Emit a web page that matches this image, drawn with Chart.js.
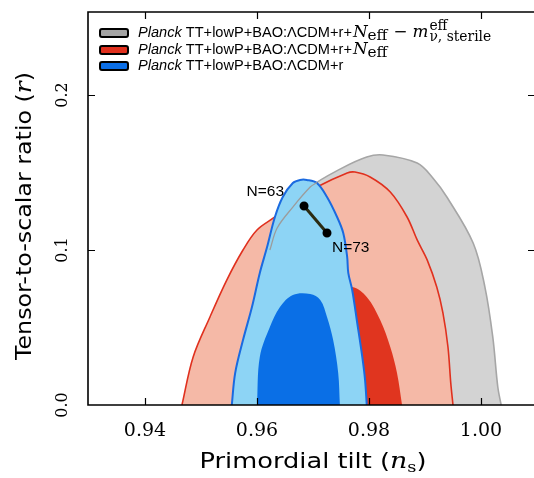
<!DOCTYPE html>
<html><head><meta charset="utf-8">
<script src="https://cdn.jsdelivr.net/npm/chart.js@4.4.1/dist/chart.umd.min.js"></script>
<style>
html,body{margin:0;padding:0;background:#fff;overflow:hidden;}
#wrap{position:relative;width:534px;height:478px;}
</style></head><body>
<div id="wrap"><canvas id="c" width="534" height="478"></canvas></div>
<script>
// ---- tick labels ----
const xTicks = [0.94, 0.96, 0.98, 1.00];
const yTicks = [0.0, 0.1, 0.2];

// ---- contours (ns, r) ----
const grayOuterNs = [0.9525,0.9552,0.9588,0.9623,0.9636,0.9664,0.9695,0.9750,0.9796,0.9825,0.9886,0.9914,0.9939,0.9986,1.0007,1.0021,1.0030,1.0036];
const grayOuterR  = [0,0.0355,0.0677,0.1000,0.1142,0.1277,0.1406,0.1525,0.1600,0.1613,0.1561,0.1465,0.1342,0.1045,0.0761,0.0439,0.0116,0];

const grayEdgeNs = [0.9623,0.9636,0.9664,0.9695,0.9707];
const grayEdgeR  = [0.1000,0.1142,0.1277,0.1406,0.1435];

const redOuterNs = [0.9466,0.9486,0.9516,0.9546,0.9575,0.9600,0.9632,0.9670,0.9707,0.9761,0.9775,0.9802,0.9838,0.9868,0.9886,0.9904,0.9921,0.9932,0.9941,0.9946,0.9950];
const redOuterR  = [0,0.0310,0.0568,0.0806,0.1000,0.1129,0.1213,0.1320,0.1406,0.1497,0.1503,0.1471,0.1374,0.1213,0.1065,0.0935,0.0761,0.0594,0.0374,0.0142,0];

const redInnerNs = [0.9677,0.9686,0.9713,0.9748,0.9770,0.9796,0.9820,0.9838,0.9850,0.9859];
const redInnerR  = [0,0.0355,0.0613,0.0729,0.0761,0.0697,0.0548,0.0374,0.0206,0];

const blueOuterNs = [0.9555,0.9561,0.9575,0.9591,0.9605,0.9618,0.9632,0.9646,0.9664,0.9677,0.9689,0.9707,0.9725,0.9743,0.9754,0.9761,0.9763,0.9770,0.9779,0.9788,0.9793,0.9796];
const blueOuterR  = [0,0.0206,0.0419,0.0632,0.0852,0.1019,0.1213,0.1342,0.1432,0.1452,0.1452,0.1432,0.1342,0.1213,0.1110,0.0955,0.0852,0.0742,0.0529,0.0310,0.0161,0];

const blueInnerNs = [0.9600,0.9605,0.9623,0.9641,0.9664,0.9695,0.9713,0.9725,0.9736,0.9745,0.9748];
const blueInnerR  = [0,0.0310,0.0503,0.0632,0.0710,0.0716,0.0677,0.0568,0.0419,0.0206,0];

// ---- N=63 .. N=73 segment ----
const nLineNs = [0.9684, 0.9725];
const nLineR  = [0.1284, 0.1110];
const nLabels = ['N=63', 'N=73'];

const pts = (xs, ys) => xs.map((x, i) => ({x, y: ys[i]}));

const SANS = '"Liberation Sans", Arial, sans-serif';
const SERIF = '"DejaVu Serif", serif';
const TITLESANS = '"DejaVu Sans", sans-serif';

const C = {
  grayFill:'#d3d3d3', grayLine:'#a6a6a6',
  salmon:'#f5b9a7', redLine:'#e0301e', red1:'#e0351f',
  lblue:'#8dd4f5', blueLine:'#1a6ae0', blue1:'#0a6fe6'
};

const lineDs = (label, data, fillColor, lineColor, lw, tension) => ({
  label, data, showLine:true, pointRadius:0, borderColor: lineColor || 'rgba(0,0,0,0)',
  borderWidth: lineColor ? lw : 0, backgroundColor: fillColor || 'rgba(0,0,0,0)',
  fill: fillColor ? 'origin' : false, tension: tension === undefined ? 0.35 : tension
});

const datasets = [
  {label:'N', data: pts(nLineNs, nLineR), showLine:true, borderColor:'#2b2b12', borderWidth:3,
   pointRadius:3, pointBackgroundColor:'#000', pointBorderColor:'#000', fill:false, tension:0},
  lineDs('grayEdge', pts(grayEdgeNs, grayEdgeR), null, '#9c9c9c', 1.3),
  lineDs('blue1', pts(blueInnerNs, blueInnerR), C.blue1, null),
  lineDs('blue2', pts(blueOuterNs, blueOuterR), C.lblue, C.blueLine, 2),
  lineDs('red1', pts(redInnerNs, redInnerR), C.red1, null),
  lineDs('red2', pts(redOuterNs, redOuterR), C.salmon, C.redLine, 1.6),
  lineDs('gray2', pts(grayOuterNs, grayOuterR), C.grayFill, C.grayLine, 1.6)
];

function fitSize(ctx, text, fontFn, target) {
  ctx.font = fontFn(20);
  return 20 * target / ctx.measureText(text).width;
}

const decor = {
  id:'decor',
  afterDatasetsDraw(chart) {
    const ctx = chart.ctx, a = chart.chartArea;
    const xs = chart.scales.x, ys = chart.scales.y;
    ctx.save();
    // frame (right border lies just beyond the visible area)
    ctx.strokeStyle = '#000'; ctx.lineWidth = 1.6;
    ctx.beginPath();
    ctx.moveTo(chart.width, a.top); ctx.lineTo(a.left, a.top);
    ctx.lineTo(a.left, a.bottom); ctx.lineTo(chart.width, a.bottom);
    ctx.stroke();
    // inward ticks
    ctx.lineWidth = 1.2;
    ctx.beginPath();
    xTicks.forEach(v => {
      const px = Math.round(xs.getPixelForValue(v)) + 0.5;
      ctx.moveTo(px, a.bottom); ctx.lineTo(px, a.bottom - 7);
      ctx.moveTo(px, a.top); ctx.lineTo(px, a.top + 7);
    });
    yTicks.forEach(v => {
      if (v === 0) return;
      const py = Math.round(ys.getPixelForValue(v)) + 0.5;
      ctx.moveTo(a.left, py); ctx.lineTo(a.left + 7, py);
      ctx.moveTo(chart.width, py); ctx.lineTo(chart.width - 6, py);
    });
    ctx.stroke();

    // N labels
    ctx.fillStyle = '#000';
    ctx.font = '15.5px ' + SANS;
    ctx.textBaseline = 'middle';
    const p0x = xs.getPixelForValue(nLineNs[0]), p0y = ys.getPixelForValue(nLineR[0]);
    const p1x = xs.getPixelForValue(nLineNs[1]), p1y = ys.getPixelForValue(nLineR[1]);
    ctx.textAlign = 'right'; ctx.fillText(nLabels[0], p0x - 20, p0y - 14);
    ctx.textAlign = 'left'; ctx.fillText(nLabels[1], p1x + 5, p1y + 15);

    // legend
    const lx = a.left + 12, tx = a.left + 50;
    const rows = [33, 50, 66];
    const boxCols = ['#a4a4a4', C.redLine, '#0b6fe8'];
    rows.forEach((cy, i) => {
      ctx.fillStyle = boxCols[i];
      ctx.strokeStyle = '#000'; ctx.lineWidth = 2;
      ctx.beginPath();
      ctx.roundRect(lx, cy - 4, 28, 8, 2);
      ctx.fill(); ctx.stroke();
    });
    const base = 'TT+lowP+BAO:ΛCDM+r+';
    const s = fitSize(ctx, 'Planck ' + base, sz => sz + 'px ' + SANS, 214);
    const ms = s * 1.15;
    ctx.textAlign = 'left'; ctx.textBaseline = 'alphabetic'; ctx.fillStyle = '#000';
    const drawRun = (x, y, t, font) => { ctx.font = font; ctx.fillText(t, x, y); return x + ctx.measureText(t).width; };
    rows.forEach((cy, i) => {
      const y = cy + 4;
      let x = tx;
      x = drawRun(x, y, 'Planck', 'italic ' + s + 'px ' + SANS);
      x = drawRun(x, y, i === 2 ? ' TT+lowP+BAO:ΛCDM+r' : ' ' + base, s + 'px ' + SANS);
      if (i < 2) {
        x = drawRun(x + 1, y, 'N', 'italic ' + ms + 'px ' + SERIF);
        x = drawRun(x, y + 3, 'eff', (s * 1.05) + 'px ' + SERIF);
      }
      if (i === 0) {
        x = drawRun(x + 6, y, '−', ms + 'px ' + SERIF);
        x = drawRun(x + 5, y, 'm', 'italic ' + ms + 'px ' + SERIF);
        drawRun(x + 1, y - 7, 'eff', (s * 0.95) + 'px ' + SERIF);
        drawRun(x + 1, y + 4, 'ν, sterile', (s * 0.95) + 'px ' + SERIF);
      }
    });

    // axis titles
    ctx.fillStyle = '#000';
    const measure = parts => parts.reduce((w, p) => { ctx.font = p[1]; return w + ctx.measureText(p[0]).width; }, 0);
    // x title
    {
      const ts = 21;
      const parts = [['Primordial tilt (', ts + 'px ' + TITLESANS, 0], ['n', 'italic ' + (ts + 1) + 'px ' + SERIF, 0], ['s', (ts * 0.7) + 'px ' + SERIF, 4], [')', ts + 'px ' + TITLESANS, 0]];
      const w = measure(parts);
      const sx = 227 / w;
      ctx.save();
      ctx.translate(313 - 227 / 2, 468);
      ctx.scale(sx, 1);
      let x = 0;
      parts.forEach(p => { x = drawRun(x, p[2], p[0], p[1]); });
      ctx.restore();
    }
    // y title
    {
      const ts = 22;
      const parts = [['Tensor-to-scalar ratio (', ts + 'px ' + TITLESANS], ['r', 'italic ' + (ts + 1) + 'px ' + SERIF], [')', ts + 'px ' + TITLESANS]];
      const w = measure(parts);
      const sl = 288 / w;
      ctx.save();
      ctx.translate(31, 216);
      ctx.rotate(-Math.PI / 2);
      ctx.scale(sl, 1);
      let x = -w / 2;
      parts.forEach(p => { x = drawRun(x, 0, p[0], p[1]); });
      ctx.restore();
    }
    ctx.restore();
  }
};

const chart = new Chart(document.getElementById('c'), {
  type:'scatter',
  data:{datasets},
  options:{
    responsive:false, animation:false, maintainAspectRatio:false,
    layout:{padding:{top:12, right:1, left:0, bottom:0}},
    plugins:{legend:{display:false}, tooltip:{enabled:false}, title:{display:false}},
    elements:{line:{capBezierPoints:true}},
    scales:{
      x:{type:'linear', min:0.92982, max:1.00929,
        afterBuildTicks: s => { s.ticks = xTicks.map(v => ({value:v})); },
        afterFit: s => { s.height = 73; s.paddingLeft = 0; s.paddingRight = 0; s.paddingTop = 0; s.paddingBottom = 0; },
        grid:{display:false, drawTicks:false}, border:{display:false},
        ticks:{autoSkip:false, maxRotation:0, color:'#000', padding:15,
          font:{family:'DejaVu Serif', size:19}, callback: v => Number(v).toFixed(2)}
      },
      y:{type:'linear', min:0, max:0.25355,
        afterBuildTicks: s => { s.ticks = yTicks.map(v => ({value:v})); },
        afterFit: s => { s.width = 88; s.paddingLeft = 0; s.paddingRight = 0; s.paddingTop = 0; s.paddingBottom = 0; },
        grid:{display:false, drawTicks:false}, border:{display:false},
        ticks:{autoSkip:false, minRotation:90, maxRotation:90, crossAlign:'center', color:'#000', padding:12,
          font:{family:'DejaVu Serif', size:16}, callback: v => Number(v).toFixed(1)}
      }
    }
  },
  plugins:[decor]
});

// Calibrate the x range so that 0.02 in n_s spans 112 px with 0.94 sitting 57 px right of the frame
{
  const xs = chart.scales.x;
  const left = xs.getPixelForValue(xs.min), right = xs.getPixelForValue(xs.max);
  const pxPerUnit = 5600;
  const newMin = 0.94 - 57 / pxPerUnit;
  chart.options.scales.x.min = newMin;
  chart.options.scales.x.max = newMin + (right - left) / pxPerUnit;
  chart.update();
}
</script>
</body></html>
